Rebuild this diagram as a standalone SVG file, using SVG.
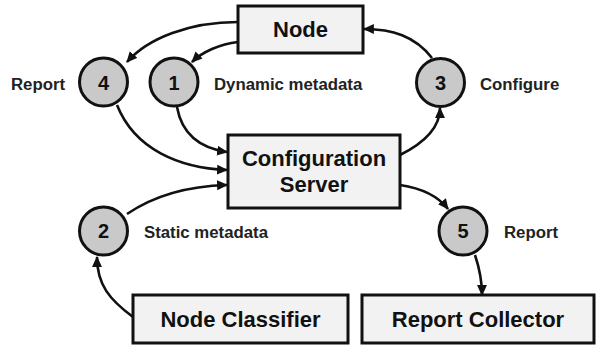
<svg xmlns="http://www.w3.org/2000/svg" width="596" height="345" viewBox="0 0 596 345">
<defs>
<marker id="ah" viewBox="0 0 10 10" refX="9" refY="5" markerWidth="11" markerHeight="11" markerUnits="userSpaceOnUse" orient="auto">
<path d="M0,0.5 L10,5 L0,9.5 Z" fill="#111"/>
</marker>
<style>
.box{fill:#f2f2f2;stroke:#111;stroke-width:3}
.circ{fill:#c9c9c9;stroke:#111;stroke-width:3}
.big{font-family:"Liberation Sans",Arial,sans-serif;font-weight:bold;font-size:22px;fill:#111;text-anchor:middle}
.num{font-family:"Liberation Sans",Arial,sans-serif;font-weight:bold;font-size:20px;fill:#111;text-anchor:middle}
.lbl{font-family:"Liberation Sans",Arial,sans-serif;font-weight:bold;font-size:16.8px;fill:#222}
.edge{fill:none;stroke:#111;stroke-width:2.6;marker-end:url(#ah)}
</style>
</defs>
<rect width="596" height="345" fill="#fff"/>
<g id="connectors">
<path class="edge" d="M238,22 C190,22 148,38 127,62"/>
<path class="edge" d="M238,42 C220,44 202,52 192,62"/>
<path class="edge" d="M117,105 C135,150 180,168 227,170"/>
<path class="edge" d="M177,107 C182,135 200,148 227,152"/>
<path class="edge" d="M127,214 C155,195 190,186 227,185"/>
<path class="edge" d="M133,317 C110,300 97,285 97,257"/>
<path class="edge" d="M400,185 C420,188 438,196 448,209"/>
<path class="edge" d="M475,255 C480,270 482,280 482,295"/>
<path class="edge" d="M400,155 C420,145 440,130 440,108"/>
<path class="edge" d="M432,58 C415,36 392,29 364,29"/>
</g>
<g id="node">
<rect class="box" x="238" y="6" width="125" height="47"/>
<text class="big" x="300.5" y="37">Node</text>
</g>
<g id="config-server">
<rect class="box" x="228" y="135" width="172" height="73"/>
<text class="big" x="314" y="166">Configuration</text>
<text class="big" x="314" y="192">Server</text>
</g>
<g id="node-classifier">
<rect class="box" x="133" y="295" width="215" height="48"/>
<text class="big" x="240.5" y="327">Node Classifier</text>
</g>
<g id="report-collector">
<rect class="box" x="362" y="295" width="232" height="48"/>
<text class="big" x="478" y="327">Report Collector</text>
</g>
<g id="step4">
<circle class="circ" cx="103.5" cy="82" r="24"/>
<text class="num" x="103.5" y="90">4</text>
<text class="lbl" x="11" y="90">Report</text>
</g>
<g id="step1">
<circle class="circ" cx="174" cy="82" r="24"/>
<text class="num" x="174" y="90">1</text>
<text class="lbl" x="214" y="90">Dynamic metadata</text>
</g>
<g id="step3">
<circle class="circ" cx="440.5" cy="82.5" r="24"/>
<text class="num" x="440.5" y="90">3</text>
<text class="lbl" x="480" y="90">Configure</text>
</g>
<g id="step2">
<circle class="circ" cx="103.5" cy="231" r="24"/>
<text class="num" x="103.5" y="238">2</text>
<text class="lbl" x="144" y="238">Static metadata</text>
</g>
<g id="step5">
<circle class="circ" cx="463" cy="231" r="24"/>
<text class="num" x="463" y="238">5</text>
<text class="lbl" x="504" y="238">Report</text>
</g>
</svg>
